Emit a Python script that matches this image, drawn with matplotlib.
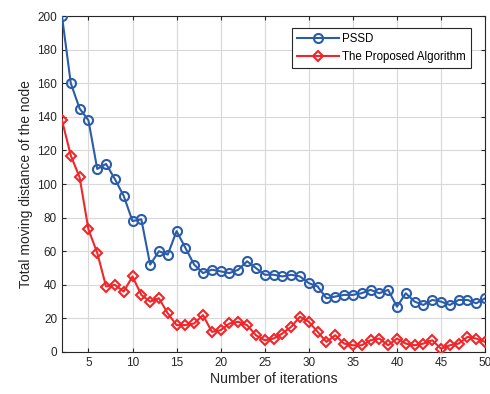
import numpy as np
import matplotlib
matplotlib.use('Agg')
import matplotlib.pyplot as plt

# Data
iterations = list(range(2, 51))
pssd = [200, 160, 145, 138, 109, 112, 103, 93, 78, 79,
        52, 60, 58, 72, 62, 52, 47, 49, 48, 47,
        49, 54, 50, 46, 46, 45, 46, 45, 41, 39,
        32, 33, 34, 34, 35, 37, 35, 37, 27, 35,
        30, 28, 31, 30, 28, 31, 31, 29, 32]
proposed = [138, 117, 104, 73, 59, 39, 40, 36, 45, 34,
            30, 32, 23, 16, 16, 17, 22, 12, 13, 17,
            18, 16, 10, 7, 8, 11, 15, 21, 18, 12,
            6, 10, 5, 4, 4, 7, 8, 4, 8, 5,
            4, 5, 7, 2, 4, 5, 9, 8, 6]
x_ticks = [5, 10, 15, 20, 25, 30, 35, 40, 45, 50]
y_ticks = [0, 20, 40, 60, 80, 100, 120, 140, 160, 180, 200]

plt.rcParams['font.family'] = ['Liberation Sans', 'DejaVu Sans']
plt.rcParams['font.size'] = 8.5

fig = plt.figure(figsize=(4.9, 3.94), dpi=100)
ax = fig.add_axes([0.1265, 0.1066, 0.8635, 0.8524])

blue = '#2a5caa'
red = '#f0262a'
ax.plot(iterations, pssd, '-o', color=blue, linewidth=1.5, markersize=6.5,
        markerfacecolor='none', markeredgewidth=1.5, label='PSSD', zorder=3)
ax.plot(iterations, proposed, '-D', color=red, linewidth=1.5, markersize=5.5,
        markerfacecolor='none', markeredgewidth=1.5,
        label='The Proposed Algorithm', zorder=3)

ax.set_xlim(2, 50)
ax.set_ylim(0, 200)
ax.set_xticks(x_ticks)
ax.set_yticks(y_ticks)
ax.grid(True, color='#d8d8d8', linewidth=0.8)
ax.set_axisbelow(True)
ax.tick_params(direction='in', length=3, top=True, right=True,
               colors='#262626', labelcolor='#262626', labelsize=8.5)
for s in ax.spines.values():
    s.set_color('#262626')
    s.set_linewidth(0.8)

ax.set_xlabel('Number of iterations', fontsize=10.2, color='#262626', labelpad=2)
ax.set_ylabel('Total moving distance of the node', fontsize=10, color='#262626', labelpad=3)

leg = ax.legend(loc='upper right', bbox_to_anchor=(0.967, 0.964), fontsize=8.3,
                fancybox=False, edgecolor='#262626', framealpha=1,
                handlelength=3.6, borderpad=0.45, labelspacing=0.45,
                handletextpad=0.3, borderaxespad=0)
leg.get_frame().set_linewidth(0.8)

fig.savefig('out.png', dpi=100)
